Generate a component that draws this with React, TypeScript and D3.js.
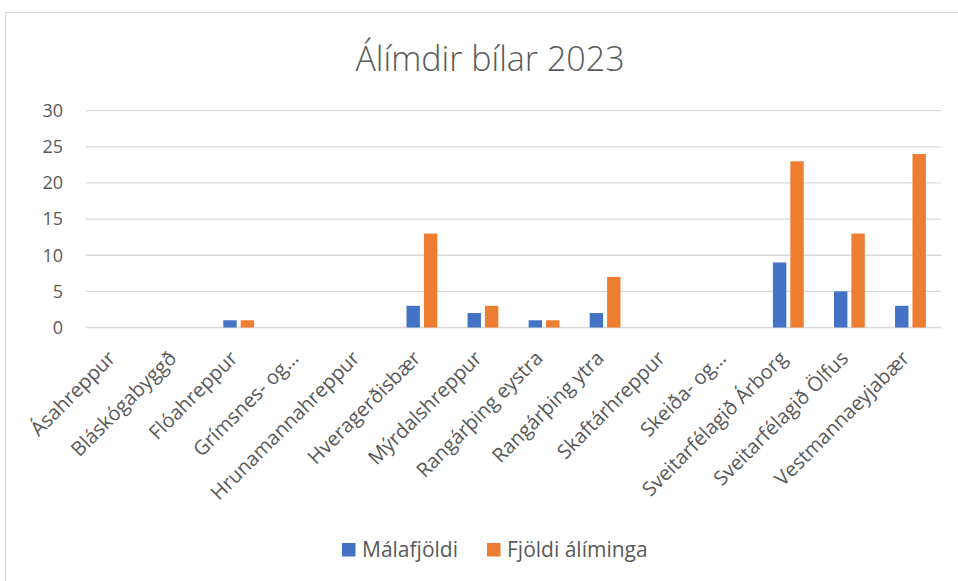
import React from "react";
import * as d3 from "d3";

// chart data
const categories = [
  "Ásahreppur",
  "Bláskógabyggð",
  "Flóahreppur",
  "Grímsnes- og…",
  "Hrunamannahreppur",
  "Hveragerðisbær",
  "Mýrdalshreppur",
  "Rangárþing eystra",
  "Rangárþing ytra",
  "Skaftárhreppur",
  "Skeiða- og…",
  "Sveitarfélagið Árborg",
  "Sveitarfélagið Ölfus",
  "Vestmannaeyjabær",
];
const malafjoldi = [0, 0, 1, 0, 0, 3, 2, 1, 2, 0, 0, 9, 5, 3];
const fjoldiAliminga = [0, 0, 1, 0, 0, 13, 3, 1, 7, 0, 0, 23, 13, 24];
const seriesNames = ["Málafjöldi", "Fjöldi álíminga"];
const seriesColors = ["#4472C4", "#ED7D31"];
const yTicks = [0, 5, 10, 15, 20, 25, 30];
const title = "Álímdir bílar 2023";

const W = 958;
const H = 581;
const FONT = "'Open Sans', 'DejaVu Sans', sans-serif";
const TEXT = "#595959";

export default function App() {
  const plot = { left: 86, right: 941, top: 110.7, bottom: 327.5 };

  const x = d3
    .scaleBand<string>()
    .domain(categories)
    .range([plot.left, plot.right])
    .padding(0);

  const x1 = d3
    .scaleBand<string>()
    .domain(seriesNames)
    .range([0, x.bandwidth()])
    .paddingInner(0.23)
    .paddingOuter(0.87);

  const y = d3.scaleLinear().domain([0, 30]).range([plot.bottom, plot.top]);

  const series = [malafjoldi, fjoldiAliminga];

  return (
    <svg
      width={W}
      height={H}
      style={{ position: "absolute", left: 0, top: 0, background: "#fff" }}
      fontFamily={FONT}
    >
      <rect x={0} y={0} width={W} height={H} fill="#fff" />
      {/* chart area border */}
      <rect
        x={5.5}
        y={12.5}
        width={W + 20}
        height={H + 20}
        fill="none"
        stroke="#d9d9d9"
        strokeWidth={1}
      />

      <text
        x={490}
        y={71}
        textAnchor="middle"
        fontSize={34}
        fontWeight={300}
        fill={TEXT}
      >
        {title}
      </text>

      {/* gridlines + y labels */}
      {yTicks.map((t) => (
        <g key={t}>
          <line
            x1={plot.left}
            x2={plot.right}
            y1={y(t)}
            y2={y(t)}
            stroke="#d9d9d9"
            strokeWidth={1.3}
          />
          <text
            x={63}
            y={y(t)}
            dy="0.35em"
            textAnchor="end"
            fontSize={18}
            fill={TEXT}
          >
            {t}
          </text>
        </g>
      ))}

      {/* bars */}
      {series.map((vals, si) =>
        categories.map((c, ci) => {
          const v = vals[ci];
          if (!v) return null;
          return (
            <rect
              key={`${si}-${ci}`}
              x={(x(c) ?? 0) + (x1(seriesNames[si]) ?? 0)}
              y={y(v)}
              width={x1.bandwidth()}
              height={y(0) - y(v)}
              fill={seriesColors[si]}
            />
          );
        })
      )}

      {/* category labels */}
      {categories.map((c) => {
        const cx = (x(c) ?? 0) + x.bandwidth() / 2;
        return (
          <text
            key={c}
            transform={`translate(${cx},${plot.bottom + 32}) rotate(-45)`}
            textAnchor="end"
            fontSize={20}
            fill={TEXT}
          >
            {c}
          </text>
        );
      })}

      {/* legend */}
      {seriesNames.map((s, i) => {
        const lx = [342, 487][i];
        return (
          <g key={s}>
            <rect x={lx} y={543} width={13.5} height={13.5} fill={seriesColors[i]} />
            <text x={lx + 20} y={556.5} fontSize={21} fill={TEXT}>
              {s}
            </text>
          </g>
        );
      })}
    </svg>
  );
}
